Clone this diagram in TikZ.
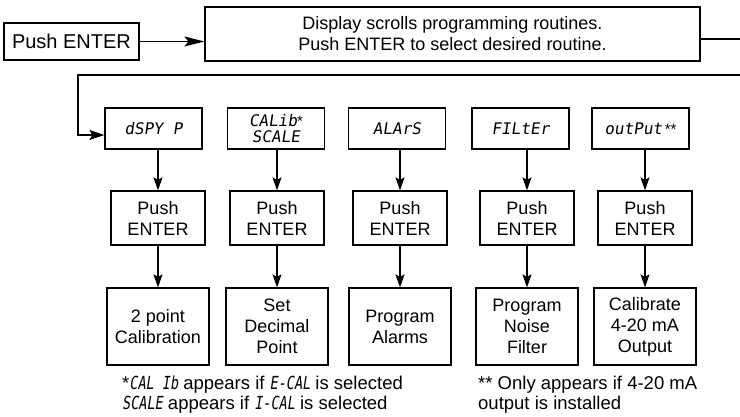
\documentclass[tikz,border=0pt]{standalone}
\usepackage{fontspec}
\setmainfont{Liberation Sans}
\newfontfamily\lcd[FakeSlant=0.15]{DejaVu Sans Mono}
\newfontfamily\lcdn[FakeSlant=0.15,FakeStretch=0.75]{DejaVu Sans Mono}
\usetikzlibrary{arrows.meta}
\begin{document}
\begin{tikzpicture}[x=1pt,y=-1pt,
  box/.style={draw, line width=1.2pt, inner sep=0pt, align=center,
    font=\fontsize{18}{21}\selectfont},
  dispbox/.style={box, minimum width=97pt, minimum height=41pt,
    font=\lcd\fontsize{16}{17}\selectfont},
  pushbox/.style={box, minimum width=94pt, minimum height=54pt},
  resbox/.style={box, minimum width=102pt, minimum height=77pt},
  note/.style={inner sep=0pt, anchor=west, font=\fontsize{18.5}{20}\selectfont},
  arr/.style={-{Stealth[length=13pt,width=9pt,inset=2.5pt]}, line width=1.2pt},
  arrtop/.style={-{Stealth[length=20pt,width=10pt,inset=4pt]}, line width=1.2pt},
  arrmid/.style={-{Stealth[length=15pt,width=10pt,inset=3pt]}, line width=1.2pt},
  wire/.style={line width=1.2pt}]
\fill[white] (0,0) rectangle (740,417);
\useasboundingbox (0,0) rectangle (740,417);

\node[box, minimum width=135pt, minimum height=37pt, font=\fontsize{20}{22}\selectfont] (pe) at (71.5,41.5) {Push ENTER};
\node[box, minimum width=495pt, minimum height=54pt] (disp) at (452.5,34)
  {Display scrolls programming routines.\\Push ENTER to select desired routine.};
\draw[arrtop] (pe.east) -- (pe.east -| disp.west);
\coordinate (rt1) at (740,39);
\draw[wire] ([yshift=-5pt]disp.east) -- (rt1);

\node[dispbox] (d1) at (153.5,128.5) {dSPY P};
\node[dispbox, font=\lcd\fontsize{16}{16}\selectfont] (d2) at (276,128.5)
  {CALib{\rmfamily\fontsize{15}{15}\selectfont*}\\SCALE};
\node[dispbox] (d3) at (397,128.5) {ALArS};
\node[dispbox] (d4) at (520.5,128.5) {FILtEr};
\node[dispbox] (d5) at (640.5,128.5) {outPut{\rmfamily\fontsize{15}{15}\selectfont\,**}};

\coordinate (rt2) at (740,75);
\coordinate (lc) at (78,75);
\draw[arrmid] (rt2) -- (lc) |- ([yshift=-6.5pt]d1.west);

\node[pushbox] (p1) at (158,218) {Push\\ENTER};
\node[pushbox] (p2) at (277,218) {Push\\ENTER};
\node[pushbox] (p3) at (400,218) {Push\\ENTER};
\node[pushbox] (p4) at (527,218) {Push\\ENTER};
\node[pushbox] (p5) at (645,218) {Push\\ENTER};

\node[resbox] (r1) at (158,326.5) {2 point\\Calibration};
\node[resbox] (r2) at (277,326.5) {Set\\Decimal\\Point};
\node[resbox] (r3) at (400,326.5) {Program\\Alarms};
\node[resbox] (r4) at (527,326.5) {Program\\Noise\\Filter};
\node[resbox] (r5) at (645,326.5) {Calibrate\\4-20 mA\\Output};

\foreach \i in {1,...,5}{
  \draw[arr] (d\i.south -| p\i.north) -- (p\i.north);
  \draw[arr] (p\i.south) -- (r\i.north);
}

\node[note] (f1) at (122,385) {*{\lcdn\fontsize{18}{18}\selectfont CAL Ib} appears if {\lcdn\fontsize{18}{18}\selectfont E-CAL} is selected};
\node[note] (f2) at (122,405) {{\lcdn\fontsize{18}{18}\selectfont SCALE} appears if {\lcdn\fontsize{18}{18}\selectfont I-CAL} is selected};
\node[note] (f3) at (478,385) {** Only appears if 4-20 mA};
\node[note] (f4) at (478,405) {output is installed};
\end{tikzpicture}
\end{document}
